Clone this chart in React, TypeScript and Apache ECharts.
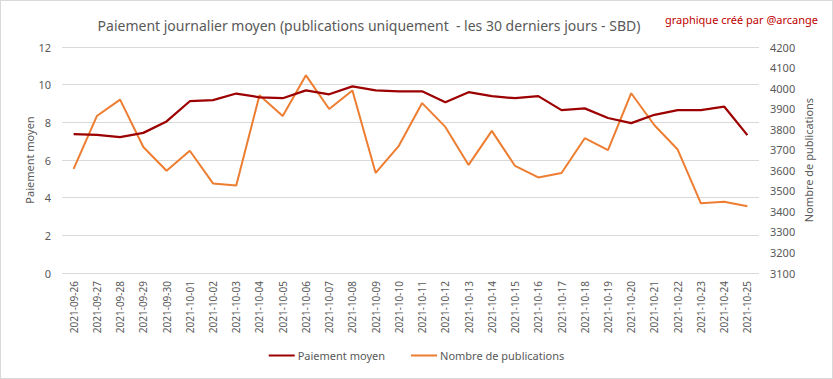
import React, { useEffect, useRef } from "react";
import * as echarts from "echarts";

const dates = [
  "2021-09-26", "2021-09-27", "2021-09-28", "2021-09-29", "2021-09-30",
  "2021-10-01", "2021-10-02", "2021-10-03", "2021-10-04", "2021-10-05",
  "2021-10-06", "2021-10-07", "2021-10-08", "2021-10-09", "2021-10-10",
  "2021-10-11", "2021-10-12", "2021-10-13", "2021-10-14", "2021-10-15",
  "2021-10-16", "2021-10-17", "2021-10-18", "2021-10-19", "2021-10-20",
  "2021-10-21", "2021-10-22", "2021-10-23", "2021-10-24", "2021-10-25",
];

const paiementMoyen = [
  7.37, 7.33, 7.21, 7.44, 8.05, 9.12, 9.18, 9.53, 9.33, 9.28,
  9.7, 9.49, 9.91, 9.7, 9.65, 9.65, 9.07, 9.6, 9.39, 9.28,
  9.39, 8.65, 8.74, 8.23, 7.96, 8.4, 8.65, 8.65, 8.84, 7.32,
];

const nombrePublications = [
  3607, 3864, 3944, 3713, 3598, 3695, 3536, 3526, 3965, 3864,
  4062, 3898, 3988, 3587, 3719, 3927, 3811, 3626, 3792, 3621,
  3565, 3587, 3756, 3698, 3975, 3819, 3701, 3439, 3447, 3425,
];

const leftTicks = { min: 0, max: 12, interval: 2 };
const rightTicks = { min: 3100, max: 4200, interval: 100 };

const FONT = "'Noto Sans', sans-serif";
const GRAY = "#595959";

export default function App() {
  const ref = useRef<HTMLDivElement>(null);
  useEffect(() => {
    document.body.style.margin = "0";
    const chart = echarts.init(ref.current!, null, { renderer: "svg" });
    chart.setOption({
      animation: false,
      backgroundColor: "#ffffff",
      textStyle: { fontFamily: FONT },
      title: [
        {
          text: "Paiement journalier moyen (publications uniquement  - les 30 derniers jours - SBD)",
          left: 363,
          top: 12,
          textAlign: "center",
          textStyle: { fontSize: 14, fontWeight: "normal", color: GRAY, fontFamily: FONT },
        },
        {
          text: "graphique créé par @arcange",
          right: 9,
          top: 8,
          textStyle: { fontSize: 11, fontWeight: "normal", color: "#c00000", fontFamily: FONT },
        },
      ],
      legend: {
        bottom: 12,
        left: "center",
        icon: "rect",
        itemWidth: 26,
        itemHeight: 2,
        itemGap: 26,
        textStyle: { fontSize: 11, color: GRAY, fontFamily: FONT, padding: [0, 0, 0, -2] },
        data: ["Paiement moyen", "Nombre de publications"],
      },
      grid: { left: 61, right: 73, top: 46, bottom: 105 },
      xAxis: {
        type: "category",
        data: dates,
        boundaryGap: true,
        axisLine: { show: false },
        axisTick: { show: false },
        axisLabel: { rotate: 90, interval: 0, fontSize: 10, color: GRAY, margin: 8 },
      },
      yAxis: [
        {
          type: "value",
          ...leftTicks,
          name: "Paiement moyen",
          nameLocation: "middle",
          nameGap: 27,
          nameMoveOverlap: false,
          nameTextStyle: { fontSize: 11, color: GRAY },
          axisLine: { show: false },
          axisTick: { show: false },
          axisLabel: { fontSize: 11, color: GRAY, margin: 11 },
          splitLine: { lineStyle: { color: "#d9d9d9", width: 1 } },
        },
        {
          type: "value",
          ...rightTicks,
          name: "Nombre de publications",
          nameLocation: "middle",
          nameGap: 44,
          nameRotate: 90,
          nameMoveOverlap: false,
          nameTextStyle: { fontSize: 11, color: GRAY },
          axisLine: { show: false },
          axisTick: { show: false },
          axisLabel: { fontSize: 11, color: GRAY, margin: 11, formatter: (v: number) => String(v) },
          splitLine: { show: false },
        },
      ],
      series: [
        {
          name: "Paiement moyen",
          type: "line",
          yAxisIndex: 0,
          data: paiementMoyen,
          showSymbol: false,
          symbol: "none",
          color: "#9c0000",
          lineStyle: { width: 2.25, color: "#9c0000" },
          z: 3,
        },
        {
          name: "Nombre de publications",
          type: "line",
          yAxisIndex: 1,
          data: nombrePublications,
          showSymbol: false,
          symbol: "none",
          color: "#ed7d31",
          lineStyle: { width: 2, color: "#ed7d31" },
          z: 2,
        },
      ],
    });
    return () => chart.dispose();
  }, []);
  return (
    <div
      ref={ref}
      style={{
        position: "fixed",
        left: 0,
        top: 0,
        width: 833,
        height: 379,
        boxSizing: "border-box",
        border: "1px solid #d9d9d9",
      }}
    />
  );
}
